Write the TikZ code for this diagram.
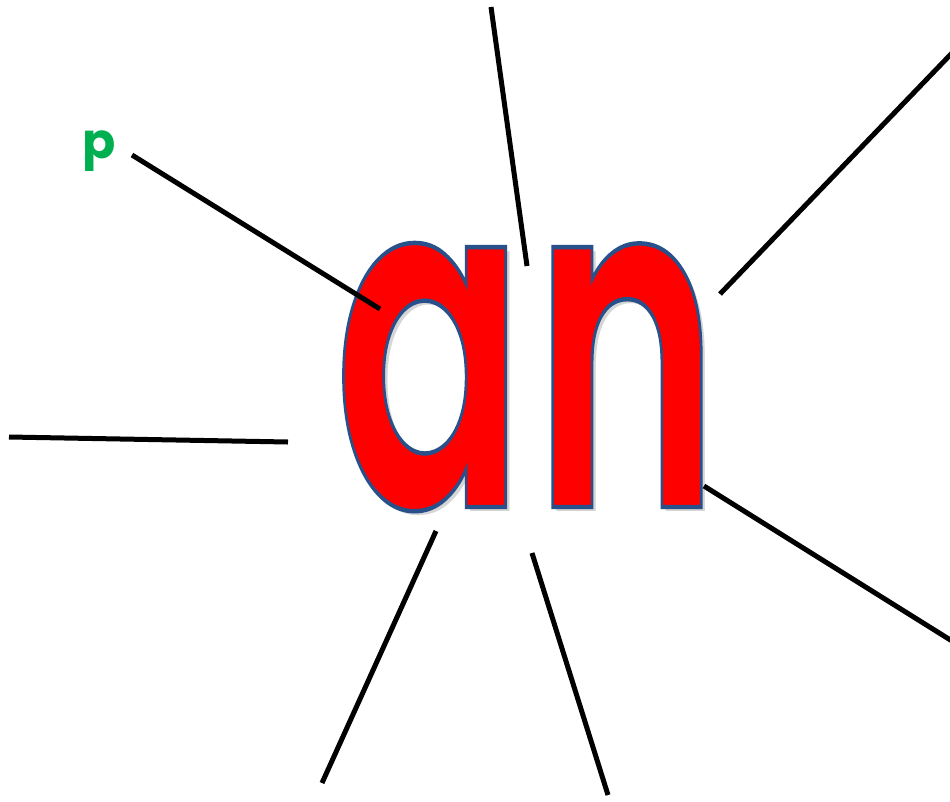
\documentclass[tikz,border=0pt]{standalone}
\usepackage{fontspec}
\usepackage{graphicx}
\newfontfamily\poppins{Poppins}
\newfontfamily\poppinssb{Poppins SemiBold}
\definecolor{outl}{HTML}{28508A}
\definecolor{pgreen}{HTML}{00B050}
\definecolor{shadowgrey}{HTML}{D6D6D6}
\tikzset{
  ray/.style={line width=5pt, black},
  wordbox/.style={inner sep=0pt, anchor=base west},
}
\newcommand{\bigword}[1]{\resizebox{385pt}{264pt}{\fontsize{100}{100}\selectfont\poppinssb #1}}
\newcommand{\outlined}[1]{{\color{red}\special{pdf:literal direct 2 Tr 0.157 0.314 0.541 RG 0.95 w}#1\special{pdf:literal direct 0 Tr}}}
\begin{document}
\begin{tikzpicture}[x=1pt,y=-1pt]
\useasboundingbox (0,0) rectangle (950,801);
% shadow and word
\node[wordbox, text=shadowgrey] (shadow) at (338,511) {\bigword{a\kern3pt n}};
\node[wordbox] (word) at (334,507) {\bigword{\outlined{a\kern3pt n}}};
% label
\node[wordbox, text=pgreen] (p) at (82,158) {\fontsize{49}{49}\selectfont\poppins\bfseries p};
% rays
\coordinate (r1a) at (491,7);   \coordinate (r1b) at (527,266);
\coordinate (r2a) at (952,53);  \coordinate (r2b) at (720,294);
\coordinate (r3a) at (132,155); \coordinate (r3b) at (380,309);
\coordinate (r4a) at (9,437);   \coordinate (r4b) at (288,442);
\coordinate (r5a) at (436,531); \coordinate (r5b) at (322,783);
\coordinate (r6a) at (532,553); \coordinate (r6b) at (608,795);
\coordinate (r7a) at (704,486); \coordinate (r7b) at (952,641);
\draw[ray] (r1a) -- (r1b);
\draw[ray] (r2a) -- (r2b);
\draw[ray] (r3a) -- (r3b);
\draw[ray] (r4a) -- (r4b);
\draw[ray] (r5a) -- (r5b);
\draw[ray] (r6a) -- (r6b);
\draw[ray] (r7a) -- (r7b);
\end{tikzpicture}
\end{document}
